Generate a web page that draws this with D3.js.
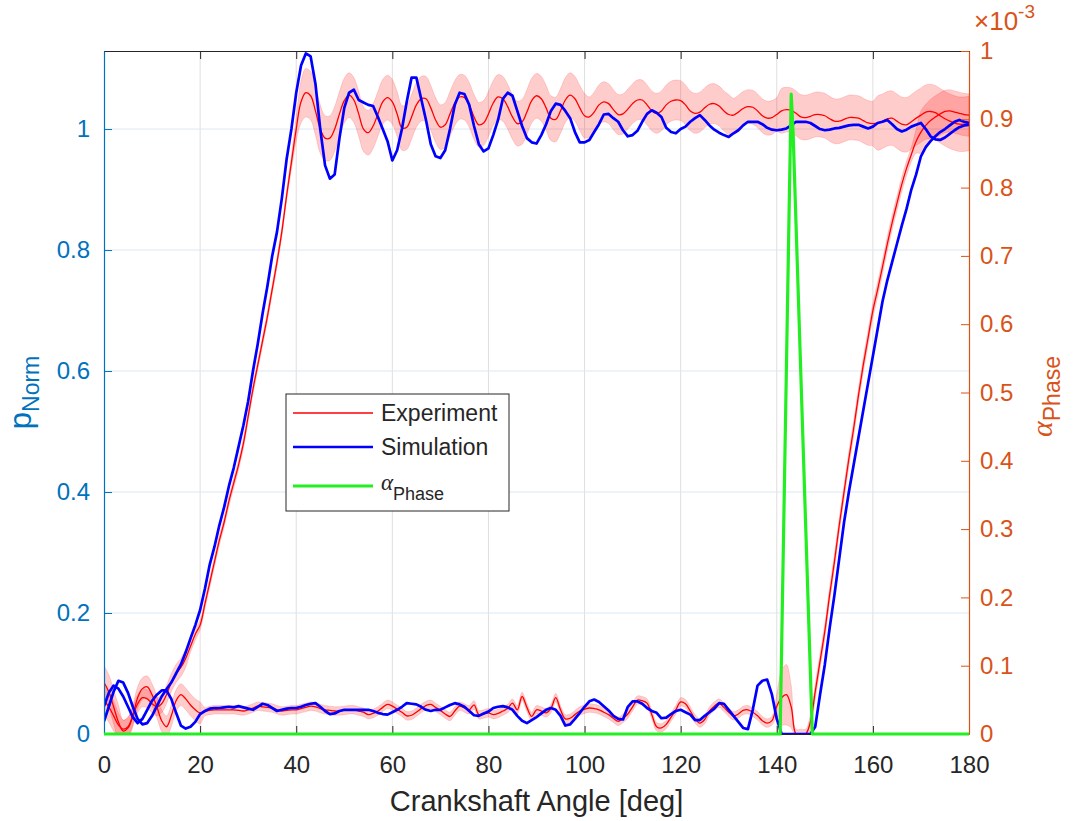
<!DOCTYPE html>
<html>
<head>
<meta charset="utf-8">
<script src="https://cdn.jsdelivr.net/npm/d3@7"></script>
<style>
  body { margin: 0; background: #fff; }
  text { font-family: "Liberation Sans", Arial, sans-serif; }
</style>
</head>
<body>
<div id="plot"></div>
<script>
// ---- data ----
var angle = d3.range(0, 181, 1);   // crankshaft angle grid, 1 deg
var xTicks = [0, 20, 40, 60, 80, 100, 120, 140, 160, 180];
var leftTicks = [0, 0.2, 0.4, 0.6, 0.8, 1];
var rightTicks = [0, 0.1, 0.2, 0.3, 0.4, 0.5, 0.6, 0.7, 0.8, 0.9, 1];

// experiment, chamber that rises near 20 deg (mean and band half width)
var expHigh = [
  0.055,0.045,0.030,0.015,0.008,0.012,0.030,0.050,0.060,0.058,
  0.050,0.045,0.050,0.065,0.085,0.100,0.110,0.125,0.145,0.165,
  0.180,0.215,0.250,0.285,0.320,0.350,0.385,0.415,0.445,0.480,
  0.525,0.570,0.610,0.650,0.690,0.735,0.780,0.830,0.890,0.945,
  1.000,1.045,1.060,1.055,1.030,1.000,0.985,0.985,1.000,1.025,
  1.047,1.056,1.048,1.025,1.000,0.994,1.005,1.025,1.045,1.052,
  1.045,1.025,1.002,1.003,1.020,1.040,1.050,1.050,1.035,1.015,
  1.003,1.007,1.025,1.043,1.053,1.052,1.040,1.020,1.007,1.010,
  1.025,1.043,1.053,1.050,1.037,1.020,1.009,1.012,1.028,1.047,
  1.055,1.050,1.035,1.018,1.016,1.030,1.048,1.056,1.050,1.035,
  1.022,1.020,1.028,1.040,1.045,1.042,1.032,1.024,1.025,1.033,
  1.042,1.048,1.048,1.040,1.030,1.026,1.030,1.040,1.046,1.048,
  1.047,1.040,1.030,1.026,1.028,1.035,1.041,1.042,1.038,1.030,
  1.024,1.023,1.028,1.034,1.037,1.036,1.030,1.022,1.018,1.019,
  1.024,1.030,1.032,1.031,1.026,1.020,1.019,1.021,1.024,1.024,
  1.022,1.017,1.013,1.013,1.016,1.019,1.019,1.018,1.014,1.010,
  1.009,1.010,1.013,1.017,1.018,1.013,1.008,1.007,1.012,1.018,
  1.023,1.028,1.029,1.027,1.022,1.017,1.013,1.010,1.008,1.008,1.009];
var expHighBand = [
  0.025,0.025,0.025,0.020,0.015,0.015,0.015,0.015,0.015,0.015,
  0.015,0.015,0.015,0.015,0.015,0.015,0.015,0.015,0.010,0.010,
  0.008,0.008,0.008,0.008,0.008,0.008,0.008,0.008,0.008,0.008,
  0.008,0.008,0.008,0.008,0.008,0.008,0.008,0.008,0.008,0.012,
  0.020,0.035,0.040,0.040,0.040,0.040,0.037,0.037,0.037,0.037,
  0.037,0.037,0.037,0.037,0.037,0.037,0.037,0.037,0.037,0.037,
  0.037,0.037,0.037,0.037,0.037,0.037,0.037,0.037,0.037,0.037,
  0.037,0.037,0.037,0.037,0.037,0.037,0.037,0.037,0.037,0.037,
  0.037,0.037,0.037,0.037,0.037,0.037,0.037,0.037,0.037,0.037,
  0.037,0.037,0.037,0.037,0.037,0.037,0.037,0.037,0.037,0.037,
  0.037,0.033,0.033,0.033,0.033,0.033,0.033,0.033,0.033,0.033,
  0.033,0.033,0.033,0.033,0.033,0.033,0.033,0.033,0.033,0.033,
  0.033,0.033,0.033,0.033,0.033,0.033,0.033,0.033,0.033,0.033,
  0.033,0.028,0.028,0.028,0.028,0.028,0.028,0.028,0.028,0.028,
  0.028,0.037,0.037,0.037,0.037,0.037,0.037,0.037,0.037,0.037,
  0.037,0.037,0.037,0.037,0.037,0.037,0.037,0.037,0.037,0.037,
  0.037,0.045,0.045,0.045,0.045,0.045,0.045,0.045,0.045,0.045,
  0.045,0.045,0.045,0.045,0.045,0.045,0.045,0.045,0.045,0.045,0.045];

// experiment, chamber that stays low until ~145 deg
var expLow = [
  0.085,0.070,0.045,0.020,0.005,0.010,0.030,0.060,0.075,0.078,
  0.065,0.045,0.022,0.012,0.030,0.055,0.065,0.058,0.048,0.040,
  0.035,0.037,0.039,0.040,0.040,0.040,0.040,0.040,0.039,0.038,
  0.040,0.043,0.046,0.045,0.044,0.043,0.040,0.038,0.039,0.040,
  0.040,0.042,0.044,0.046,0.045,0.042,0.040,0.039,0.038,0.038,
  0.039,0.040,0.040,0.038,0.036,0.032,0.034,0.038,0.044,0.049,
  0.046,0.041,0.036,0.030,0.031,0.036,0.042,0.047,0.049,0.044,
  0.039,0.033,0.029,0.038,0.046,0.043,0.040,0.048,0.032,0.033,
  0.035,0.032,0.034,0.038,0.042,0.051,0.040,0.062,0.044,0.029,
  0.040,0.038,0.035,0.042,0.060,0.040,0.025,0.026,0.032,0.038,
  0.041,0.043,0.042,0.040,0.036,0.032,0.026,0.021,0.026,0.033,
  0.045,0.056,0.055,0.051,0.032,0.012,0.010,0.016,0.028,0.040,
  0.053,0.050,0.038,0.025,0.018,0.024,0.038,0.046,0.051,0.044,
  0.036,0.030,0.033,0.039,0.040,0.036,0.030,0.022,0.018,0.022,
  0.046,0.060,0.065,0.045,0.000,0.000,0.000,0.020,0.070,0.120,
  0.170,0.230,0.285,0.345,0.400,0.455,0.505,0.560,0.610,0.655,
  0.700,0.735,0.772,0.810,0.845,0.877,0.908,0.935,0.958,0.980,
  0.995,1.006,1.014,1.020,1.025,1.029,1.030,1.028,1.026,1.024,1.023];
var expLowBand = [
  0.028,0.028,0.028,0.028,0.018,0.018,0.018,0.018,0.018,0.018,
  0.018,0.018,0.018,0.018,0.018,0.018,0.018,0.018,0.018,0.018,
  0.018,0.007,0.007,0.007,0.007,0.007,0.007,0.007,0.007,0.007,
  0.007,0.007,0.007,0.007,0.007,0.007,0.007,0.007,0.007,0.007,
  0.007,0.007,0.007,0.007,0.007,0.007,0.007,0.007,0.007,0.007,
  0.007,0.007,0.007,0.007,0.007,0.007,0.007,0.007,0.007,0.007,
  0.007,0.007,0.007,0.007,0.007,0.007,0.007,0.007,0.007,0.007,
  0.007,0.007,0.007,0.007,0.007,0.007,0.007,0.007,0.007,0.007,
  0.007,0.007,0.007,0.007,0.007,0.007,0.007,0.007,0.007,0.007,
  0.007,0.007,0.007,0.007,0.007,0.007,0.007,0.007,0.007,0.007,
  0.007,0.007,0.007,0.007,0.007,0.007,0.007,0.007,0.007,0.007,
  0.007,0.007,0.007,0.007,0.007,0.007,0.007,0.007,0.007,0.007,
  0.007,0.007,0.007,0.007,0.007,0.007,0.007,0.007,0.007,0.007,
  0.007,0.007,0.007,0.007,0.007,0.007,0.007,0.007,0.007,0.007,
  0.020,0.045,0.050,0.035,0.008,0.008,0.008,0.012,0.012,0.012,
  0.012,0.012,0.012,0.012,0.012,0.012,0.012,0.012,0.012,0.012,
  0.012,0.012,0.012,0.012,0.012,0.012,0.012,0.012,0.012,0.020,
  0.035,0.035,0.035,0.035,0.035,0.035,0.035,0.035,0.035,0.035,0.035];

// simulation, both chambers
var simHigh = [
  0.021,0.045,0.070,0.088,0.085,0.068,0.045,0.025,0.016,0.018,
  0.030,0.046,0.062,0.074,0.085,0.100,0.115,0.135,0.158,0.180,
  0.205,0.240,0.280,0.310,0.345,0.375,0.410,0.440,0.475,0.510,
  0.550,0.600,0.645,0.695,0.740,0.790,0.830,0.885,0.950,1.000,
  1.060,1.105,1.125,1.120,1.075,1.000,0.940,0.918,0.925,0.985,
  1.035,1.060,1.065,1.048,1.044,1.040,1.038,1.020,1.000,0.980,
  0.948,0.965,1.000,1.045,1.085,1.085,1.050,1.015,0.975,0.955,
  0.952,0.965,1.000,1.040,1.060,1.058,1.040,1.005,0.975,0.963,
  0.968,0.990,1.015,1.050,1.060,1.055,1.030,1.005,0.985,0.978,
  0.976,0.990,1.008,1.030,1.042,1.040,1.030,1.018,0.995,0.978,
  0.978,0.982,0.995,1.008,1.024,1.025,1.018,1.012,0.998,0.988,
  0.990,0.997,1.012,1.025,1.031,1.027,1.020,1.002,0.995,0.993,
  1.000,1.004,1.012,1.018,1.023,1.015,1.006,0.999,0.994,0.990,
  0.987,0.993,0.998,1.006,1.012,1.012,1.012,1.008,1.002,0.999,
  0.998,0.999,1.001,1.006,1.012,1.012,1.012,1.010,1.005,1.000,
  0.998,0.999,1.001,1.002,1.004,1.006,1.007,1.007,1.004,1.001,
  1.004,1.010,1.012,1.015,1.008,1.000,0.996,0.999,1.004,1.007,
  1.010,1.000,0.988,0.983,0.982,0.986,0.992,0.998,1.003,1.006,1.007];
var simLow = [
  0.046,0.068,0.080,0.075,0.062,0.045,0.028,0.018,0.025,0.040,
  0.055,0.065,0.072,0.072,0.058,0.035,0.014,0.009,0.012,0.020,
  0.033,0.038,0.042,0.043,0.043,0.044,0.045,0.044,0.046,0.044,
  0.042,0.040,0.045,0.050,0.048,0.043,0.038,0.040,0.042,0.043,
  0.043,0.045,0.048,0.050,0.051,0.045,0.038,0.033,0.034,0.038,
  0.040,0.040,0.040,0.040,0.040,0.040,0.038,0.035,0.033,0.032,
  0.036,0.040,0.045,0.051,0.050,0.049,0.045,0.040,0.038,0.040,
  0.040,0.044,0.048,0.051,0.049,0.045,0.038,0.031,0.030,0.034,
  0.037,0.043,0.045,0.046,0.044,0.040,0.030,0.022,0.018,0.023,
  0.028,0.034,0.040,0.043,0.040,0.030,0.014,0.016,0.025,0.035,
  0.045,0.054,0.057,0.053,0.046,0.039,0.030,0.025,0.024,0.045,
  0.054,0.054,0.050,0.043,0.038,0.035,0.026,0.027,0.033,0.038,
  0.040,0.036,0.032,0.023,0.023,0.030,0.036,0.042,0.051,0.050,
  0.040,0.030,0.020,0.010,0.008,0.040,0.080,0.088,0.090,0.065,
  0.025,0.000,0.000,0.000,0.000,0.000,0.000,0.000,0.012,0.065,
  0.115,0.175,0.230,0.290,0.350,0.400,0.445,0.490,0.535,0.580,
  0.625,0.670,0.715,0.750,0.780,0.810,0.840,0.868,0.900,0.925,
  0.955,0.970,0.980,0.988,0.995,1.000,1.006,1.012,1.015,1.012,1.010];

// phase fraction (right axis, x 1e-3)
var alphaAngle = [0, 140.7, 142.6, 143.0, 143.4, 147.4, 180];
var alphaValue = [0, 0, 0.78, 0.937, 0.88, 0, 0];

// ---- drawing environment ----
var W = 1076, H = 821;
var margin = {t:51, r:107, b:87, l:104};
var width = W - margin.l - margin.r,
    height = H - margin.t - margin.b;

var blue = '#0072BD', orange = '#D95319', dark = '#262626';

var svg = d3.select('#plot')
  .append('svg')
  .attr('width', W)
  .attr('height', H);

var plot = svg.append('g')
  .attr('transform', 'translate(' + margin.l + ',' + margin.t + ')');

var x = d3.scaleLinear().domain([0, 180]).range([0, width]);
var yL = d3.scaleLinear().domain([0, 1.129]).range([height, 0]);
var yR = d3.scaleLinear().domain([0, 1]).range([height, 0]);

// grid
plot.append('g').selectAll('line')
  .data(xTicks.slice(1, -1))
  .enter().append('line')
  .attr('x1', d => x(d)).attr('x2', d => x(d))
  .attr('y1', 0).attr('y2', height)
  .attr('stroke', '#dfdfdf').attr('stroke-width', 1);

plot.append('g').selectAll('line')
  .data(leftTicks.slice(1))
  .enter().append('line')
  .attr('x1', 0).attr('x2', width)
  .attr('y1', d => yL(d)).attr('y2', d => yL(d))
  .attr('stroke', '#dae8f3').attr('stroke-width', 1);

// series
svg.append('defs').append('clipPath').attr('id', 'clip')
  .append('rect').attr('width', width).attr('height', height);

var data = angle.map(function(a, i){
  return {a:a, eh:expHigh[i], ehb:expHighBand[i], el:expLow[i], elb:expLowBand[i],
          sh:simHigh[i], sl:simLow[i]};
});

var series = plot.append('g').attr('clip-path', 'url(#clip)');

function band(key, hw){
  return d3.area()
    .x(d => x(d.a))
    .y0(d => yL(d[key] - d[hw]))
    .y1(d => yL(d[key] + d[hw]))
    .curve(d3.curveCatmullRom);
}
function line(key, curve){
  return d3.line().x(d => x(d.a)).y(d => yL(d[key])).curve(curve);
}

[['eh','ehb'], ['el','elb']].forEach(function(k){
  series.append('path').datum(data)
    .attr('d', band(k[0], k[1]))
    .attr('fill', '#ff0000').attr('fill-opacity', 0.2)
    .attr('stroke', '#ff0000').attr('stroke-opacity', 0.15).attr('stroke-width', 1);
});
['eh', 'el'].forEach(function(k){
  series.append('path').datum(data)
    .attr('d', line(k, d3.curveCatmullRom))
    .attr('fill', 'none').attr('stroke', '#ff0000').attr('stroke-width', 1.3);
});
['sh', 'sl'].forEach(function(k){
  series.append('path').datum(data)
    .attr('d', line(k, d3.curveLinear))
    .attr('fill', 'none').attr('stroke', '#0000ff').attr('stroke-width', 2.7)
    .attr('stroke-linejoin', 'round');
});

// axes
var xAxis = plot.append('g')
  .attr('transform', 'translate(0,' + height + ')')
  .call(d3.axisBottom(x).tickValues(xTicks).tickSizeInner(-8).tickSizeOuter(0).tickPadding(22));
xAxis.select('.domain').attr('stroke', dark);
xAxis.selectAll('.tick line').attr('stroke', dark);
xAxis.selectAll('text').attr('fill', dark).attr('font-size', 24).attr('font-family', 'Liberation Sans, Arial, sans-serif');

var topAxis = plot.append('g')
  .call(d3.axisTop(x).tickValues(xTicks).tickSizeInner(-8).tickSizeOuter(0).tickFormat(''));
topAxis.select('.domain').attr('stroke', dark);
topAxis.selectAll('.tick line').attr('stroke', dark);

var leftAxis = plot.append('g')
  .call(d3.axisLeft(yL).tickValues(leftTicks).tickSizeInner(-8).tickSizeOuter(0).tickPadding(14)
    .tickFormat(d => String(d)));
leftAxis.select('.domain').attr('stroke', blue).attr('stroke-width', 1.2);
leftAxis.selectAll('.tick line').attr('stroke', blue);
leftAxis.selectAll('text').attr('fill', blue).attr('font-size', 24).attr('font-family', 'Liberation Sans, Arial, sans-serif');

var rightAxis = plot.append('g')
  .attr('transform', 'translate(' + width + ',0)')
  .call(d3.axisRight(yR).tickValues(rightTicks).tickSizeInner(-8).tickSizeOuter(0).tickPadding(11)
    .tickFormat(d => String(d)));
rightAxis.select('.domain').attr('stroke', orange).attr('stroke-width', 1.2);
rightAxis.selectAll('.tick line').attr('stroke', orange);
rightAxis.selectAll('text').attr('fill', orange).attr('font-size', 24).attr('font-family', 'Liberation Sans, Arial, sans-serif');

// green phase line on top
plot.append('path')
  .datum(alphaAngle.map((a, i) => [a, alphaValue[i]]))
  .attr('d', d3.line().x(d => x(d[0])).y(d => yR(d[1])))
  .attr('fill', 'none').attr('stroke', '#22ee22').attr('stroke-width', 3.2)
  .attr('stroke-linejoin', 'round');

// labels
svg.append('text')
  .attr('x', margin.l + width / 2).attr('y', 811)
  .attr('text-anchor', 'middle').attr('fill', dark).attr('font-size', 29)
  .text('Crankshaft Angle [deg]');

var yl = svg.append('text')
  .attr('transform', 'translate(31,' + (margin.t + height / 2) + ') rotate(-90)')
  .attr('text-anchor', 'middle').attr('fill', blue).attr('font-size', 31);
yl.append('tspan').text('p');
yl.append('tspan').attr('dy', 8).attr('font-size', 23).text('Norm');

var yr = svg.append('text')
  .attr('transform', 'translate(1052,' + (margin.t + height / 2 + 4) + ') rotate(-90)')
  .attr('text-anchor', 'middle').attr('fill', orange).attr('font-size', 30);
yr.append('tspan').attr('font-family', 'Liberation Serif, serif').attr('font-style', 'italic').text('\u03b1');
yr.append('tspan').attr('dy', 8).attr('font-size', 23).text('Phase');

var ex = svg.append('text')
  .attr('x', 974).attr('y', 30).attr('fill', orange).attr('font-size', 26);
ex.append('tspan').text('\u00d710');
ex.append('tspan').attr('dy', -12).attr('font-size', 19).text('-3');

// legend
var legendItems = [
  {label:'Experiment', color:'#ff0000', w:1.3, y:413},
  {label:'Simulation', color:'#0000ff', w:2.7, y:447},
  {label:'alpha', color:'#22ee22', w:3.2, y:486}
];
var legend = svg.append('g');
legend.append('rect')
  .attr('x', 286).attr('y', 394).attr('width', 223).attr('height', 117)
  .attr('fill', '#fff').attr('stroke', dark).attr('stroke-width', 1);
legendItems.forEach(function(it){
  legend.append('line')
    .attr('x1', 293).attr('x2', 373).attr('y1', it.y).attr('y2', it.y)
    .attr('stroke', it.color).attr('stroke-width', it.w);
  var t = legend.append('text').attr('x', 381).attr('fill', dark).attr('font-size', 23);
  if (it.label === 'alpha') {
    t.attr('y', 490);
    t.append('tspan').attr('font-family', 'Liberation Serif, serif').attr('font-style', 'italic').text('\u03b1');
    t.append('tspan').attr('dy', 10).attr('font-size', 18).text('Phase');
  } else {
    t.attr('y', it.y + 8).text(it.label);
  }
});
</script>
</body>
</html>
